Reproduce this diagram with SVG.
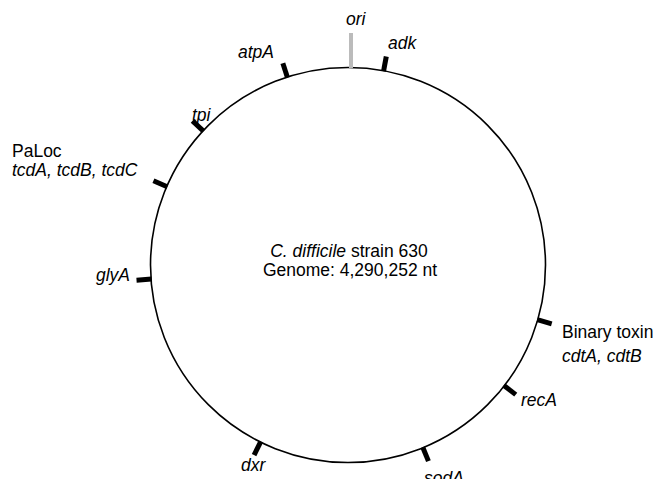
<svg xmlns="http://www.w3.org/2000/svg" width="657" height="479" viewBox="0 0 657 479">
<style>
text{font-family:"Liberation Sans",Arial,sans-serif;font-size:17.5px;fill:#000}
.i{font-style:italic}
.tick{stroke:#000;stroke-width:5;fill:none}
.ori{stroke:#bbb;stroke-width:4;fill:none}
.circ{stroke:#000;stroke-width:1.6;fill:none}
</style>
<g id="genome">
<circle class="circ" cx="348" cy="265" r="197.5"/>
<text x="349" y="257" text-anchor="middle"><tspan class="i">C. difficile</tspan> strain 630</text>
<text x="350" y="276" text-anchor="middle">Genome: 4,290,252 nt</text>
</g>
<g id="connectors">
<line class="ori" x1="351" y1="33" x2="351" y2="68"/>
<line class="tick" x1="348" y1="68" x2="348" y2="53" transform="rotate(10.4 348 265)"/>
<line class="tick" x1="348" y1="68" x2="348" y2="53" transform="rotate(-17.9 348 265)"/>
<line class="tick" x1="348" y1="68" x2="348" y2="53" transform="rotate(-47.2 348 265)"/>
<line class="tick" x1="348" y1="68" x2="348" y2="53" transform="rotate(-66.6 348 265)"/>
<line class="tick" x1="348" y1="68" x2="348" y2="53" transform="rotate(-94.1 348 265)"/>
<line class="tick" x1="348" y1="68" x2="348" y2="53" transform="rotate(106.1 348 265)"/>
<line class="tick" x1="348" y1="68" x2="348" y2="53" transform="rotate(127.7 348 265)"/>
<line class="tick" x1="348" y1="68" x2="348" y2="53" transform="rotate(157.7 348 265)"/>
<line class="tick" x1="348" y1="68" x2="348" y2="53" transform="rotate(-153.7 348 265)"/>
</g>
<g id="ori"><text class="i" x="346" y="25">ori</text></g>
<g id="adk"><text class="i" x="388" y="49">adk</text></g>
<g id="atpA"><text class="i" x="238" y="58">atpA</text></g>
<g id="tpi"><text class="i" x="192" y="121">tpi</text></g>
<g id="PaLoc"><text x="12" y="157">PaLoc</text><text class="i" x="12" y="176">tcdA, tcdB, tcdC</text></g>
<g id="glyA"><text class="i" x="130" y="281" text-anchor="end">glyA</text></g>
<g id="binary"><text x="562" y="338">Binary toxin</text><text class="i" x="562" y="362">cdtA, cdtB</text></g>
<g id="recA"><text class="i" x="521" y="406">recA</text></g>
<g id="sodA"><text class="i" x="424" y="484">sodA</text></g>
<g id="dxr"><text class="i" x="241" y="471">dxr</text></g>
</svg>
